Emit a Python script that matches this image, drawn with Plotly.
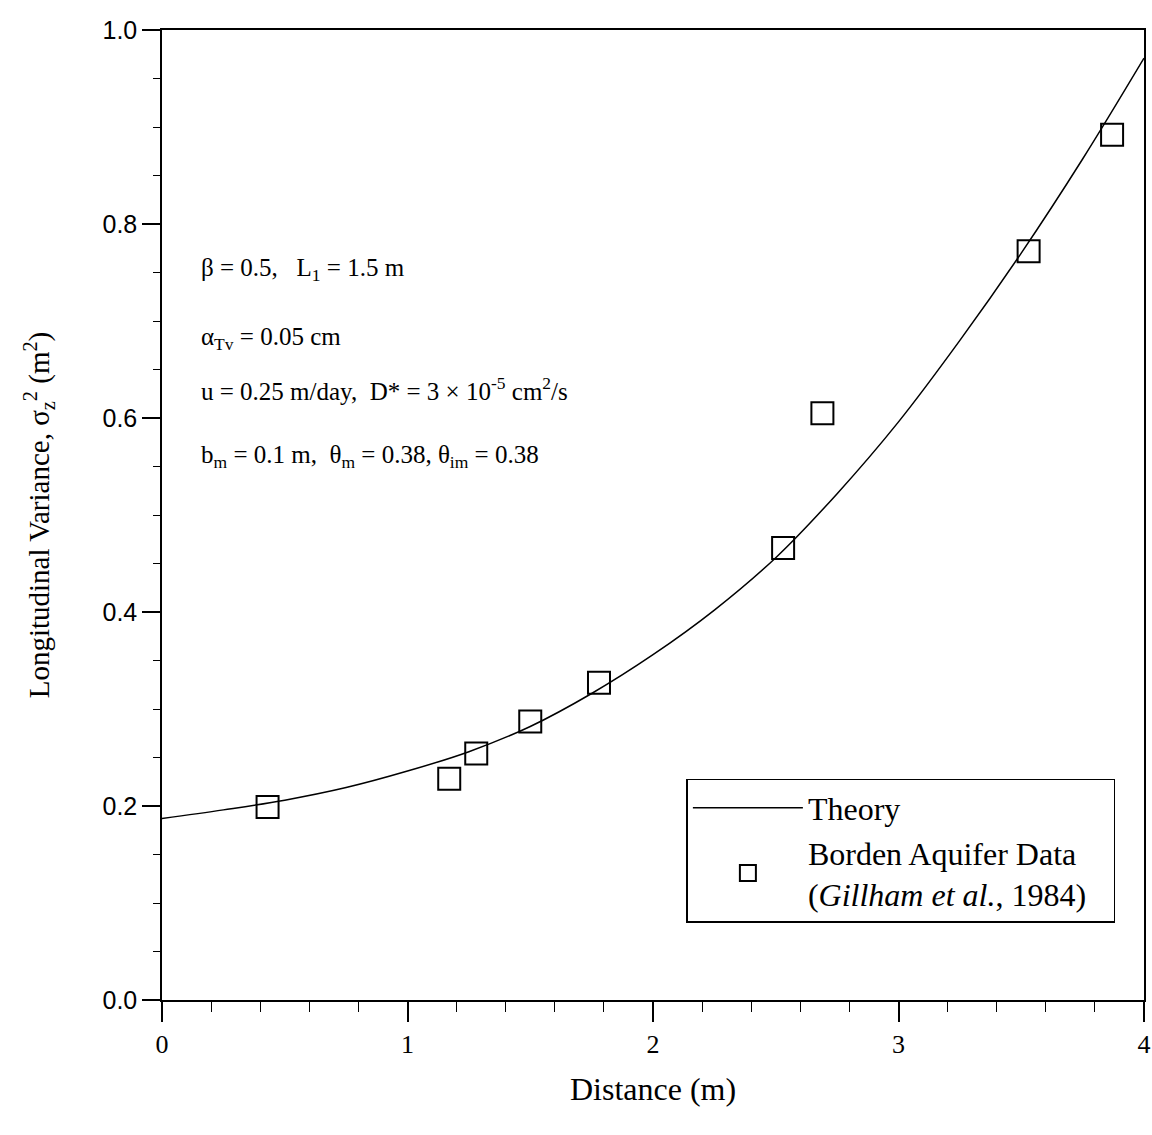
import plotly.graph_objects as go

# Theory curve
theory_x = [0.0, 0.25, 0.5, 0.75, 1.0, 1.25, 1.5, 1.75, 2.0, 2.25, 2.5, 2.75, 3.0, 3.25, 3.5, 3.75, 4.0]
theory_y = [0.187, 0.196, 0.206, 0.219, 0.236, 0.256, 0.282, 0.316, 0.356, 0.402, 0.456, 0.522, 0.596, 0.680, 0.770, 0.867, 0.971]

# Borden Aquifer data
data_x = [0.43, 1.17, 1.28, 1.50, 1.78, 2.53, 2.69, 3.53, 3.87]
data_y = [0.199, 0.228, 0.254, 0.287, 0.327, 0.466, 0.605, 0.772, 0.892]

x_ticks = [0, 1, 2, 3, 4]
y_ticks = [0.0, 0.2, 0.4, 0.6, 0.8, 1.0]

SERIF = "Liberation Serif, Times New Roman, serif"
SANS = "Liberation Sans, Arial, sans-serif"
NB = "\u00a0"

fig = go.Figure()
fig.add_trace(go.Scatter(
    x=theory_x, y=theory_y, mode="lines", name="Theory",
    line=dict(color="black", width=1.5, shape="spline", smoothing=1.0),
))
fig.add_trace(go.Scatter(
    x=data_x, y=data_y, mode="markers",
    name="Borden Aquifer Data" + NB * 4 + "<br>(<i>Gillham et al.</i>, 1984)",
    marker=dict(symbol="square-open", size=22, color="black", line=dict(width=2)),
))

ann_font = dict(family=SERIF, size=25, color="black")
texts = [
    (0.753, "β = 0.5,   L<sub>1</sub> = 1.5 m"),
    (0.682, "α<sub>Tv</sub> = 0.05 cm"),
    (0.630, "u = 0.25 m/day,  D* = 3 × 10<sup>-5</sup> cm<sup>2</sup>/s"),
    (0.560, "b<sub>m</sub> = 0.1 m,  θ<sub>m</sub> = 0.38, θ<sub>im</sub> = 0.38"),
]
for yv, t in texts:
    fig.add_annotation(x=0.15, y=yv, xref="x", yref="y", text=t, showarrow=False,
                       xanchor="left", yanchor="middle", font=ann_font, align="left")

fig.update_layout(
    width=1152, height=1135,
    margin=dict(l=162, r=8, t=30, b=135),
    paper_bgcolor="white", plot_bgcolor="white",
    font=dict(family=SERIF, size=22, color="black"),
    legend=dict(
        x=0.534, y=0.228, xanchor="left", yanchor="top",
        bgcolor="white", bordercolor="black", borderwidth=1.5,
        font=dict(family=SERIF, size=32, color="black"),
        itemwidth=110, tracegroupgap=0,
    ),
    showlegend=True,
)
fig.update_xaxes(
    range=[0, 4], tickvals=x_ticks, ticktext=[str(v) for v in x_ticks],
    showgrid=False, zeroline=False, showline=True, linecolor="black", linewidth=1.5,
    mirror=True, ticks="outside", ticklen=20, tickwidth=1.5, tickcolor="black",
    minor=dict(dtick=0.2, ticks="outside", ticklen=10, tickwidth=1, tickcolor="black"),
    tickfont=dict(family=SERIF, size=26), ticklabeloverflow="allow", automargin=False,
    title=dict(text="Distance (m)", font=dict(family=SERIF, size=32), standoff=20),
)
fig.update_yaxes(
    range=[0, 1.0], tickvals=y_ticks, ticktext=[f"{v:.1f}" for v in y_ticks],
    showgrid=False, zeroline=False, showline=True, linecolor="black", linewidth=1.5,
    mirror=True, ticks="outside", ticklen=18, tickwidth=1.5, tickcolor="black",
    minor=dict(dtick=0.05, ticks="outside", ticklen=7, tickwidth=1, tickcolor="black"),
    tickfont=dict(family=SANS, size=25), ticklabeloverflow="allow", automargin=False,
    title=dict(text="Longitudinal Variance, σ<sub>z</sub><sup>2</sup> (m<sup>2</sup>)",
               font=dict(family=SERIF, size=29), standoff=44),
)

fig.write_html("out.html")
